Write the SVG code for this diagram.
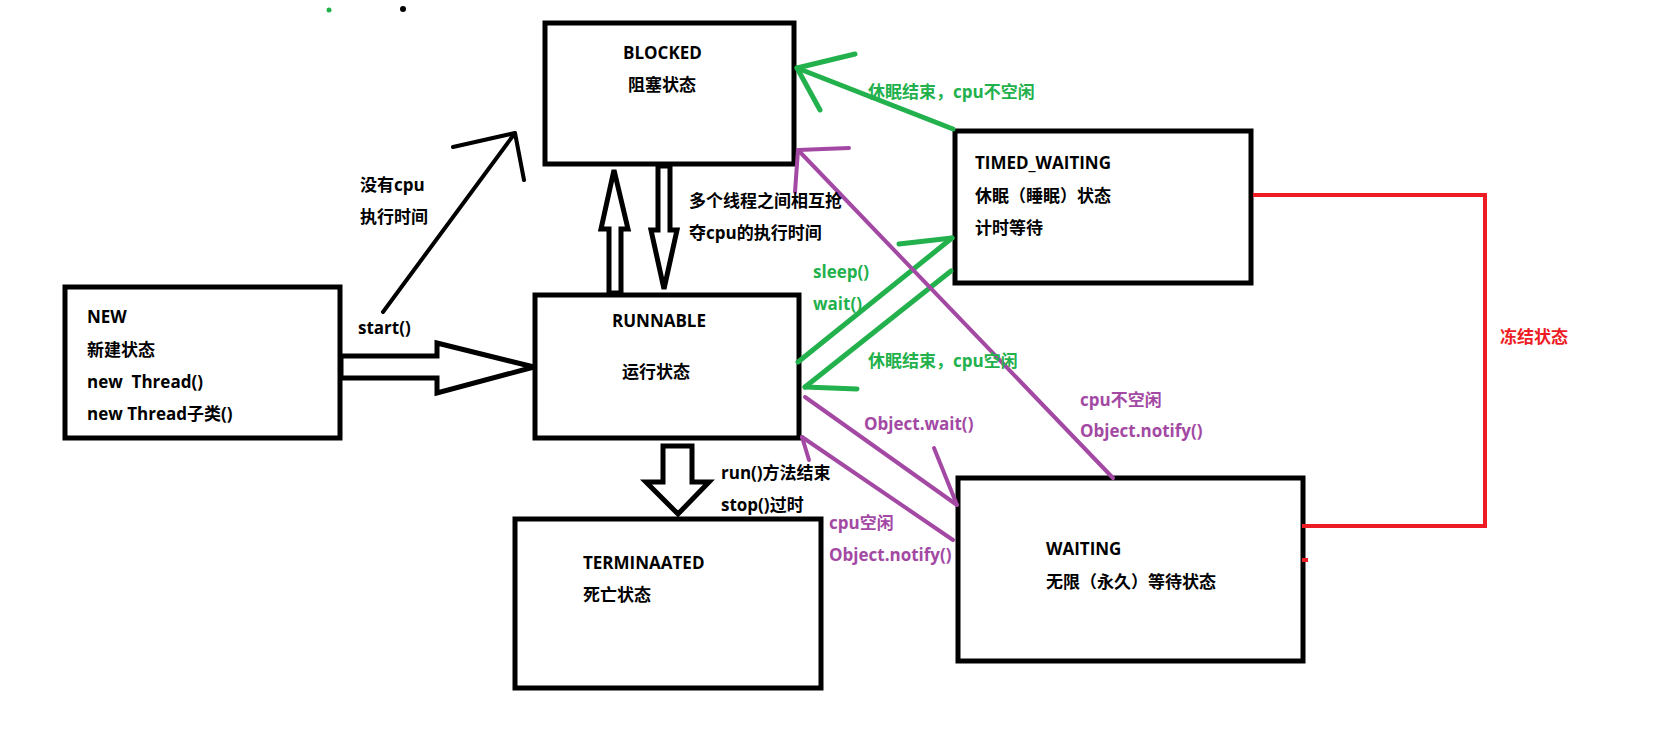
<svg xmlns="http://www.w3.org/2000/svg" width="1667" height="741" viewBox="0 0 1667 741">
<style>
text{font-family:"Open Sans","Noto Sans CJK SC",sans-serif;font-weight:bold;font-size:17px;fill:#000}
.box{fill:#fff;stroke:#000;stroke-width:5}
.hollow{fill:#fff;stroke:#000;stroke-width:5;stroke-linejoin:miter}
.blk{fill:none;stroke:#000;stroke-width:4;stroke-linecap:round;stroke-linejoin:round}
.grn{fill:none;stroke:#22b14c;stroke-width:5;stroke-linecap:round;stroke-linejoin:round}
.pur{fill:none;stroke:#a349a4;stroke-width:4;stroke-linecap:round;stroke-linejoin:round}
.red{fill:none;stroke:#ed1c24;stroke-width:4}
text.g{fill:#22b14c}
text.p{fill:#a349a4}
text.r{fill:#ed1c24}
</style>
<rect width="1667" height="741" fill="#fff"/>
<circle cx="329" cy="10" r="2.5" fill="#22b14c"/>
<circle cx="403" cy="9" r="3" fill="#000"/>

<g id="node-blocked">
<rect class="box" x="545" y="23" width="249" height="141"/>
<text x="623" y="59">BLOCKED</text>
<text x="628" y="91">阻塞状态</text>
</g>
<g id="node-runnable">
<rect class="box" x="535" y="295" width="264" height="143"/>
<text x="612" y="327">RUNNABLE</text>
<text x="622" y="378">运行状态</text>
</g>
<g id="node-new">
<rect class="box" x="65" y="287" width="275" height="151"/>
<text x="87" y="323">NEW</text>
<text x="87" y="356">新建状态</text>
<text x="87" y="388" xml:space="preserve">new  Thread()</text>
<text x="87" y="420">new Thread子类()</text>
</g>
<g id="node-timed-waiting">
<rect class="box" x="955" y="131" width="296" height="152"/>
<text x="975" y="169">TIMED_WAITING</text>
<text x="975" y="202">休眠（睡眠）状态</text>
<text x="975" y="234">计时等待</text>
</g>
<g id="node-waiting">
<rect class="box" x="958" y="478" width="345" height="183"/>
<text x="1046" y="555">WAITING</text>
<text x="1046" y="588">无限（永久）等待状态</text>
</g>
<g id="node-terminated">
<rect class="box" x="515" y="519" width="306" height="169"/>
<text x="583" y="569">TERMINAATED</text>
<text x="583" y="601">死亡状态</text>
</g>

<g id="connectors">
<polygon class="hollow" points="341,356 437,356 437,343 534,367 437,393 437,378 341,378"/>
<polygon class="hollow" points="609,293 609,229 601,229 614,170 628,229 621,229 621,293"/>
<polygon class="hollow" points="658,166 670,166 670,230 677,230 664,289 651,230 658,230"/>
<polygon class="hollow" points="663,446 692,446 692,482 709,482 678,514 646,482 663,482"/>
<polyline class="blk" points="383,312 515,133"/>
<polyline class="blk" points="453,147 515,133 524,180"/>

<polyline class="grn" points="953,129 797,68"/>
<polyline class="grn" points="855,54 797,68 820,110"/>
<polyline class="grn" points="798,362 952,238"/>
<polyline class="grn" points="899,244 952,238"/>
<polyline class="grn" points="951,271 805,387"/>
<polyline class="grn" points="857,389 805,387"/>

<polyline class="pur" points="1113,478 798,150"/>
<polyline class="pur" points="849,148 798,150 795,192"/>
<polyline class="pur" points="805,397 957,505"/>
<polyline class="pur" points="934,448 957,505"/>
<polyline class="pur" points="953,540 802,437"/>
<polyline class="pur" points="802,437 809,460"/>

<polyline class="red" points="1253,195 1485,195 1485,526 1302,526"/>
<line class="red" x1="1302" y1="560" x2="1308" y2="560"/>
</g>

<g id="labels">
<text x="360" y="191">没有cpu</text>
<text x="360" y="223">执行时间</text>
<text x="358" y="334">start()</text>
<text x="689" y="207">多个线程之间相互抢</text>
<text x="689" y="239">夺cpu的执行时间</text>
<text x="721" y="479">run()方法结束</text>
<text x="721" y="511">stop()过时</text>
<text class="g" x="868" y="98">休眠结束，cpu不空闲</text>
<text class="g" x="813" y="278">sleep()</text>
<text class="g" x="813" y="310">wait()</text>
<text class="g" x="868" y="367">休眠结束，cpu空闲</text>
<text class="p" x="1080" y="406">cpu不空闲</text>
<text class="p" x="1080" y="437">Object.notify()</text>
<text class="p" x="864" y="430">Object.wait()</text>
<text class="p" x="829" y="529">cpu空闲</text>
<text class="p" x="829" y="561">Object.notify()</text>
<text class="r" x="1500" y="343">冻结状态</text>
</g>
</svg>
